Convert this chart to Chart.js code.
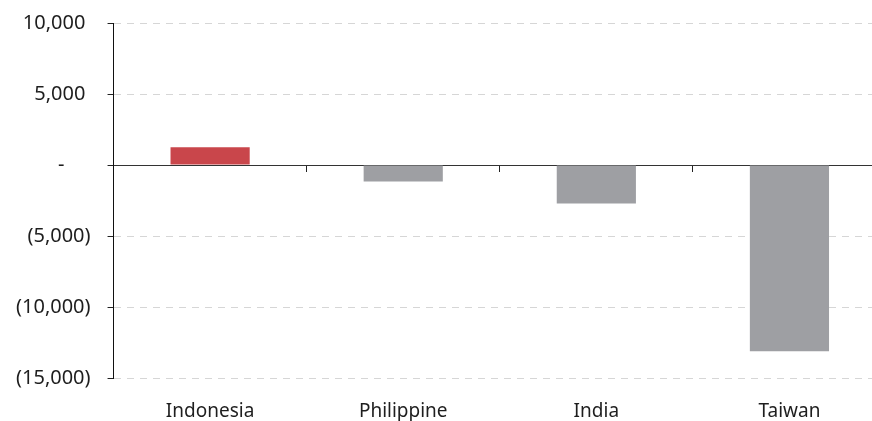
<!DOCTYPE html>
<html>
<head>
<meta charset="utf-8">
<script src="https://cdn.jsdelivr.net/npm/chart.js@4"></script>
<style>
  html, body { margin: 0; padding: 0; background: #fff; }
  #frame { width: 872px; height: 421px; overflow: hidden; position: relative; }
  #box { width: 888px; height: 457px; position: absolute; left: -2px; top: -6px; }
</style>
</head>
<body>
<div id="frame"><div id="box"><canvas id="chart"></canvas></div></div>
<script>
const countries = ["Indonesia", "Philippine", "India", "Taiwan"];
const netFlow = [1250, -1150, -2700, -13100];
const yTicks = [-15000, -10000, -5000, 0, 5000, 10000];

const barColors = ["#c9464b", "#9e9fa3", "#9e9fa3", "#9e9fa3"];

function fmt(v) {
  if (v === 0) return "-     ";
  const s = Math.abs(v).toLocaleString("en-US");
  return v < 0 ? "(" + s + ")" : s + " ";
}

document.addEventListener("DOMContentLoaded", () => {
  const ctx = document.getElementById("chart").getContext("2d");
  Chart.defaults.font.family = "'Noto Sans', sans-serif";
  Chart.defaults.color = "#1e1e1e";

  new Chart(ctx, {
    type: "bar",
    data: {
      labels: countries,
      datasets: [{
        data: netFlow,
        backgroundColor: barColors,
        borderWidth: 0,
        barPercentage: 0.41,
        categoryPercentage: 1
      }]
    },
    options: {
      responsive: true,
      maintainAspectRatio: false,
      animation: false,
      layout: { padding: { left: 1, top: 8, right: 0, bottom: 6 } },
      plugins: { legend: { display: false }, tooltip: { enabled: false } },
      scales: {
        x: {
          position: "bottom",
          grid: { display: false, drawTicks: false },
          border: { display: false },
          ticks: { font: { size: 19 }, padding: 22, maxRotation: 0 }
        },
        x2: {
          type: "category",
          position: { y: 0 },
          grid: { drawOnChartArea: false, drawTicks: true, tickLength: 6, offset: true, tickColor: "#222" },
          border: { display: true, color: "#333", width: 1 },
          ticks: { display: false }
        },
        y: {
          min: -15000,
          max: 10000,
          afterBuildTicks: (axis) => { axis.ticks = yTicks.map(v => ({ value: v })); },
          grid: {
            color: (c) => (c.tick && c.tick.value === 0) ? "#333" : "#d6d6d6",
            tickColor: "#222",
            tickLength: 6,
            tickBorderDash: []
          },
          border: {
            display: true,
            color: "#111",
            dash: (c) => (c.tick && c.tick.value === 0) ? [] : [7, 6]
          },
          ticks: {
            font: { size: 20 },
            padding: 17,
            callback: (v) => fmt(v)
          }
        }
      }
    }
  });
});
</script>
</body>
</html>
